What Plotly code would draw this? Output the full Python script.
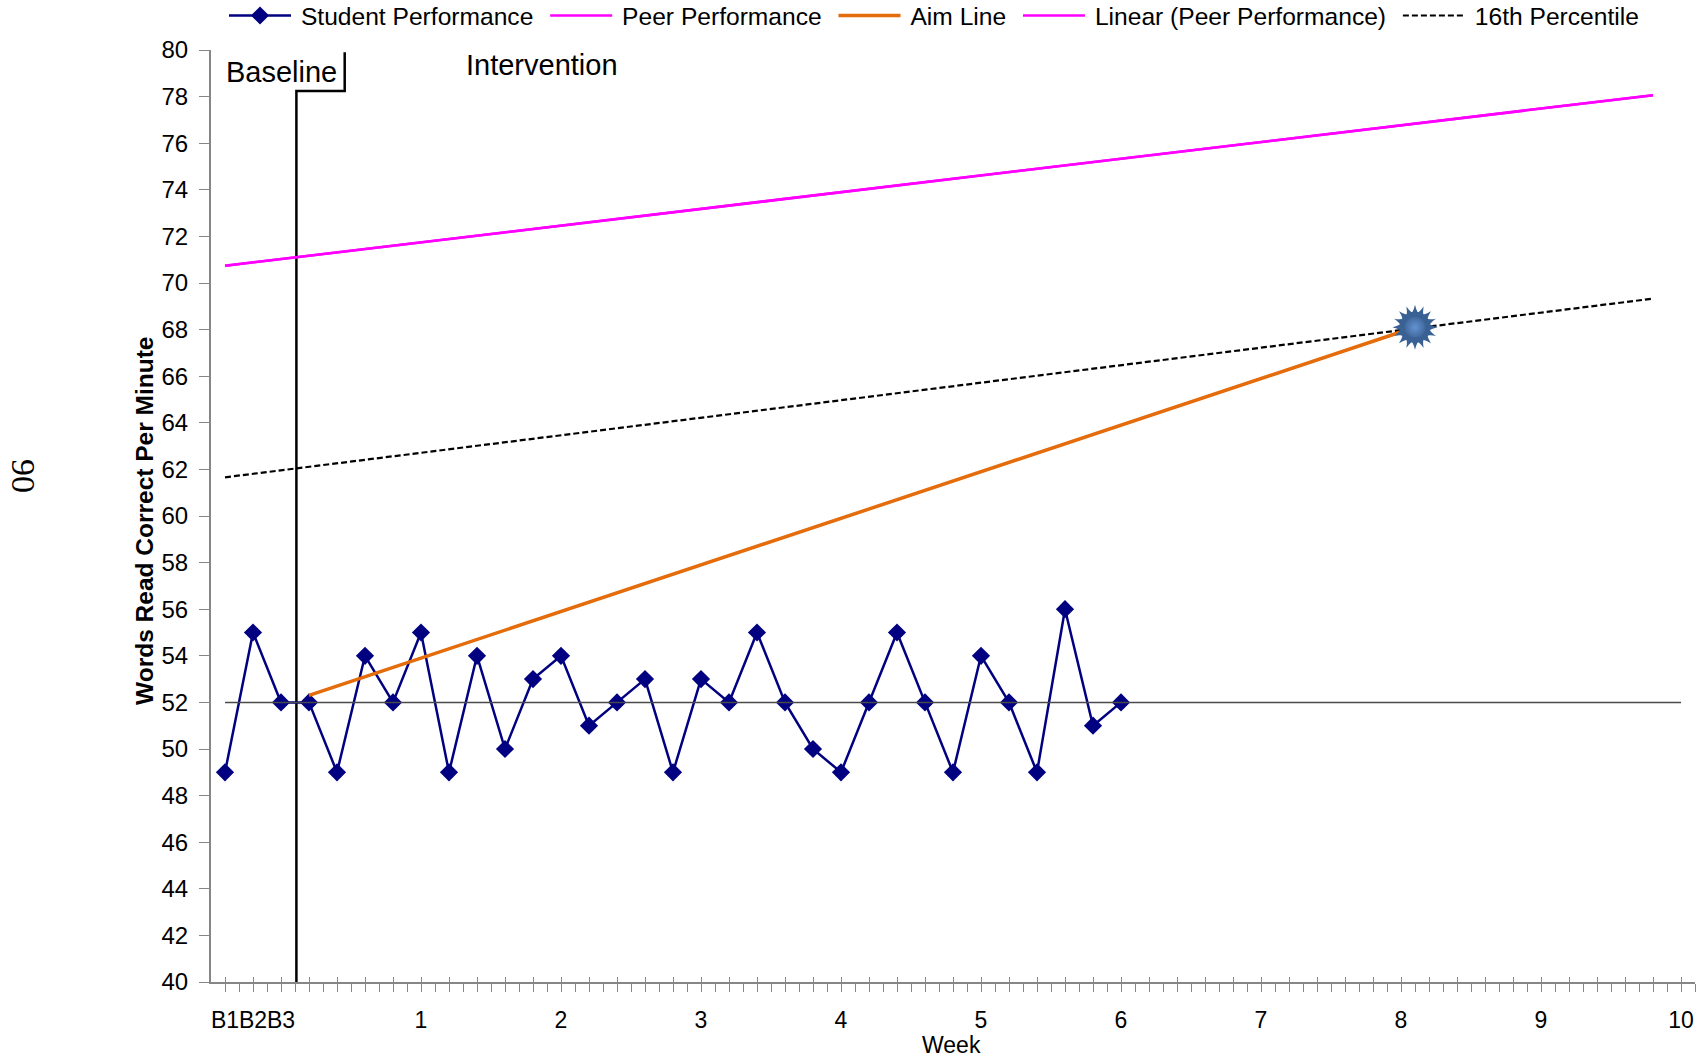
import numpy as np
import plotly.graph_objects as go

# ---------------- data ----------------
session_week = [-0.4, -0.2, 0.0, 0.2, 0.4, 0.6, 0.8, 1.0, 1.2, 1.4, 1.6, 1.8, 2.0,
                2.2, 2.4, 2.6, 2.8, 3.0, 3.2, 3.4, 3.6, 3.8, 4.0, 4.2, 4.4, 4.6,
                4.8, 5.0, 5.2, 5.4, 5.6, 5.8, 6.0]
student_wcpm = [49, 55, 52,
                52, 49, 54, 52, 55, 49, 54, 50, 53, 54, 51, 52, 53, 49, 53, 52,
                55, 52, 50, 49, 52, 55, 52, 49, 54, 52, 49, 56, 51, 52]

peer_week = [-0.4, 9.8]
peer_wcpm = [70.74, 78.06]

pct16_week = [-0.4, 9.8]
pct16_wcpm = [61.66, 69.33]

aim_week = [0.2, 8.1]
aim_wcpm = [52.3, 68.1]

goal_week = [8.1]
goal_wcpm = [68.1]

median_week = [-0.4, 10.0]
median_wcpm = [52, 52]

phase_week = [0.11, 0.11, 0.455, 0.455]
phase_wcpm = [40, 78.24, 78.24, 79.9]

tick_vals = [-0.4, -0.2, 0, 1, 2, 3, 4, 5, 6, 7, 8, 9, 10]
tick_text = ["B1", "B2", "B3", "1", "2", "3", "4", "5", "6", "7", "8", "9", "10"]

# linear trend of peer performance
coef = np.polyfit(peer_week, peer_wcpm, 1)
peer_trend = list(np.polyval(coef, peer_week))

FONT = "Liberation Sans, Arial, sans-serif"
AXIS_GRAY = "#868686"
X_RANGE = [-0.5, 10.1]
NB = "\u00a0"     # trailing gap between legend entries
TS = "\u2009"     # small gap between legend symbol and text
W, H = 1708, 1059
L, R, T, B = 211, 13, 50, 77
PW, PH = W - L - R, H - T - B


def px(xfull):
    return (xfull - L) / PW


def py(yfull):
    return (H - B - yfull) / PH


def lname(s, last=False):
    return TS + s + ("" if last else NB)


fig = go.Figure()

# median / level line (on overlay axis so that the axis is drawn)
fig.add_trace(go.Scatter(x=median_week, y=median_wcpm, mode="lines", xaxis="x2",
                         line=dict(color="#4a4a4a", width=1.5),
                         showlegend=False, hoverinfo="skip"))

# phase change line
fig.add_trace(go.Scatter(x=phase_week, y=phase_wcpm, mode="lines",
                         line=dict(color="black", width=2.5),
                         showlegend=False, hoverinfo="skip"))

fig.add_trace(go.Scatter(x=peer_week, y=peer_wcpm, mode="lines",
                         name=lname("Peer Performance"), legendrank=2,
                         line=dict(color="#FF00FF", width=2.5)))
fig.add_trace(go.Scatter(x=peer_week, y=peer_trend, mode="lines",
                         name=lname("Linear (Peer Performance)"), legendrank=4,
                         line=dict(color="#FF00FF", width=2.5)))
fig.add_trace(go.Scatter(x=pct16_week, y=pct16_wcpm, mode="lines",
                         name=lname("16th Percentile", last=True), legendrank=5,
                         line=dict(color="black", width=2.2, dash="6px,3px")))
fig.add_trace(go.Scatter(x=session_week, y=student_wcpm, mode="lines+markers",
                         name=lname("Student Performance"), legendrank=1,
                         line=dict(color="#000080", width=2.5),
                         marker=dict(symbol="diamond", size=14, color="#000080")))
fig.add_trace(go.Scatter(x=aim_week, y=aim_wcpm, mode="lines",
                         name=lname("Aim Line"), legendrank=3,
                         line=dict(color="#E46C0A", width=3.5)))

# goal star (16-point sun-like marker)
for ang in [0, 22.5, 45, 67.5]:
    fig.add_trace(go.Scatter(x=goal_week, y=goal_wcpm, mode="markers",
                             marker=dict(symbol="star-square", size=29, angle=ang,
                                         color="#3A6194", line=dict(width=0)),
                             showlegend=False, hoverinfo="skip"))
fig.add_trace(go.Scatter(x=goal_week, y=goal_wcpm, mode="markers",
                         marker=dict(symbol="circle", size=31, color="#3A6194",
                                     line=dict(width=0)),
                         showlegend=False, hoverinfo="skip"))
fig.add_trace(go.Scatter(x=goal_week, y=goal_wcpm, mode="markers",
                         marker=dict(symbol="circle", size=21, color="#40689C",
                                     gradient=dict(type="radial", color="#6493D2"),
                                     line=dict(width=0)),
                         showlegend=False, hoverinfo="skip"))

minor_vals = [round(v, 1) for v in np.arange(-0.4, 10.11, 0.1)]
major_vals = [round(v, 1) for v in np.arange(-0.4, 10.11, 0.2)]

fig.update_layout(
    width=W, height=H,
    margin=dict(l=L, r=R, t=T, b=B, autoexpand=False),
    paper_bgcolor="white", plot_bgcolor="white",
    font=dict(family=FONT, size=24, color="black"),
    showlegend=True,
    legend=dict(orientation="h", xref="paper", yref="paper",
                x=px(224), xanchor="left", y=1 + 57 / PH, yanchor="top",
                font=dict(size=24.6), itemwidth=62, bgcolor="rgba(0,0,0,0)",
                traceorder="normal", tracegroupgap=0),
    xaxis=dict(range=X_RANGE, tickmode="array", tickvals=tick_vals,
               ticktext=tick_text, tickangle=0, ticks="", showline=True,
               linecolor=AXIS_GRAY, linewidth=1.5, showgrid=False,
               zeroline=False, tickfont=dict(size=23),
               ticklabelstandoff=17,
               minor=dict(tickmode="array", tickvals=minor_vals,
                          ticks="outside", ticklen=8, tickwidth=1,
                          tickcolor=AXIS_GRAY, showgrid=False)),
    xaxis2=dict(range=X_RANGE, overlaying="x", anchor="y", side="bottom",
                tickmode="array", tickvals=major_vals, ticks="inside",
                ticklen=5, tickwidth=1, tickcolor=AXIS_GRAY,
                showticklabels=False, showline=False, showgrid=False,
                zeroline=False),
    yaxis=dict(range=[40, 80], tickmode="linear", tick0=40, dtick=2,
               ticks="outside", ticklen=10, tickwidth=1.2,
               tickcolor=AXIS_GRAY, showline=True, linecolor=AXIS_GRAY,
               linewidth=2, showgrid=False, zeroline=False,
               tickfont=dict(size=24), ticklabelstandoff=6),
    annotations=[
        dict(text="Baseline", x=0.0, y=79.06, xref="x", yref="y",
             showarrow=False, font=dict(size=29), xanchor="center"),
        dict(text="Intervention", x=1.867, y=79.36, xref="x", yref="y",
             showarrow=False, font=dict(size=29), xanchor="center"),
        dict(text="<b>Words Read Correct Per Minute</b>", x=px(144),
             y=py(521), xref="paper", yref="paper", textangle=-90,
             showarrow=False, font=dict(size=24.5, family=FONT),
             xanchor="center", yanchor="middle"),
        dict(text="Week", x=px(951), y=py(1045),
             xref="paper", yref="paper", showarrow=False,
             font=dict(size=23), xanchor="center", yanchor="middle"),
        dict(text="90", x=px(24), y=py(476),
             xref="paper", yref="paper", showarrow=False, textangle=90,
             font=dict(size=34, family="Liberation Serif, Times New Roman, serif"),
             xanchor="center", yanchor="middle"),
    ],
)

fig.write_html("out.html",
               config={"displayModeBar": False},
               post_script="document.body.style.margin='0';"
                           "document.body.style.overflow='hidden';")
